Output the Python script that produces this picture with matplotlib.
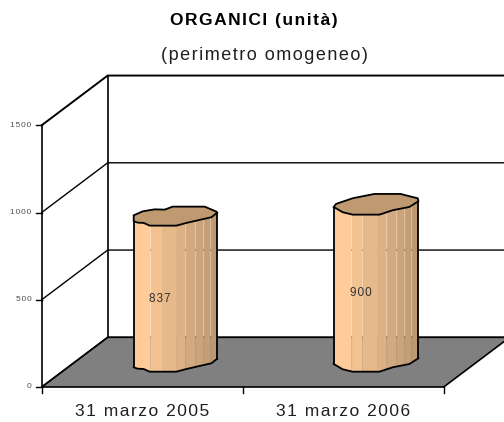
import numpy as np
import matplotlib
matplotlib.use('Agg')
import matplotlib.pyplot as plt
from matplotlib.patches import Polygon

plt.rcParams['font.family'] = ['Liberation Sans', 'DejaVu Sans']

categories = ['31 marzo 2005', '31 marzo 2006']
values = [837, 900]
value_labels = ['837', '900']
y_ticks = [0, 500, 1000, 1500]
y_tick_labels = ['0', '500', '1000', '1500']

# pixels per category / per unit, depth of the fake 3d box
PX_CAT = 201.0
PX_VAL = 0.1745
X0, Y0 = 41.7, 387.0
W, H = 504, 422
DEPTH_X = 66.0 / PX_CAT
DEPTH_Y = 49.7 / PX_VAL
BAR_FRONT = 0.308
BAR_MID = 0.5
LABEL_DEPTH = 0.27

STRIP_EDGES = [-41.5, -24.5, -13.5, 0.5, 10.5, 20.5, 28.5, 35.5, 42.0]
STRIP_COLORS = ['#FFCC99', '#F2C291', '#E6B98B', '#DCB185', '#D3AA80', '#CCA47B', '#C59E76', '#BE9871']
TOP_COLOR = '#BF9970'

# footprint outlines in pixels from the bar centre, front edge left to right, then back edge right to left
FRONT = [
    [(-41.5, 4.4), (-37.5, 3.0), (-31.5, 2.7), (-25.5, 0.0), (1.2, 0.0), (11.2, 2.7), (36.2, 8.4), (42.0, 13.0)],
    [(-42.5, 7.7), (-33.5, 2.4), (-23.5, 0.0), (3.2, 0.0), (16.5, 4.4), (33.2, 7.7), (42.2, 13.4)],
]
BACK = [
    [(42.0, 13.0), (41.2, 14.0), (29.5, 19.0), (-2.5, 19.0), (-10.5, 16.0), (-20.5, 16.3), (-32.5, 14.3), (-41.5, 10.3), (-41.5, 4.4)],
    [(42.2, 13.4), (41.5, 16.4), (33.2, 18.4), (24.5, 20.7), (-1.8, 20.7), (-23.5, 16.4), (-40.2, 10.7), (-42.5, 7.7)],
]


def project(cat, val, depth=0.0):
    return cat + depth * DEPTH_X, val + depth * DEPTH_Y


def px(dx, dy):
    return dx / PX_CAT, dy / PX_VAL


def spaced(s):
    # the original text is letter spaced, hair spaces get close to that
    return '\u200a'.join(s)


fig = plt.figure(figsize=(W / 100, H / 100), dpi=100)
ax = fig.add_axes([0, 0, 1, 1])
ax.set_xlim(-X0 / PX_CAT, (W - X0) / PX_CAT)
ax.set_ylim((Y0 - H) / PX_VAL, Y0 / PX_VAL)
ax.axis('off')

top_val = y_ticks[-1]
n_cat = len(categories)

# floor
floor = [project(0, 0), project(n_cat, 0), project(n_cat, 0, 1), project(0, 0, 1)]
ax.add_patch(Polygon(floor, closed=True, fc='#808080', ec='black', lw=1.2, zorder=1))

# left wall and back wall lines
for v in y_ticks:
    lw = 1.4 if v == top_val else 1.0
    a, b, c = project(0, v), project(0, v, 1), project(n_cat, v, 1)
    ax.plot([a[0], b[0], c[0]], [a[1], b[1], c[1]], color='black', lw=lw, zorder=2, solid_joinstyle='miter')
    ax.plot([a[0] - 5.5 / PX_CAT, a[0]], [a[1], a[1]], color='black', lw=1.0, zorder=2)
    ax.text(a[0] - 10 / PX_CAT, v, spaced(y_tick_labels[y_ticks.index(v)]), ha='right', va='center',
            fontsize=6, color='#505050')
for x0, y0, x1, y1 in [(*project(0, 0), *project(0, top_val)), (*project(0, 0, 1), *project(0, top_val, 1))]:
    ax.plot([x0, x1], [y0, y1], color='black', lw=1.2, zorder=2)

# x ticks and labels
for i in range(n_cat + 1):
    ax.plot([i, i], [0, -6 / PX_VAL], color='black', lw=1.0, zorder=2)
for i, lab in enumerate(categories):
    ax.text(i + 0.5, -25 / PX_VAL, spaced(lab), ha='center', va='center', fontsize=12.5, color='#202020')

# bars
for i, v in enumerate(values):
    cx = project(i + 0.5, 0, BAR_MID)[0]
    base = project(i + 0.5, 0, BAR_FRONT)[1]
    front = FRONT[i]
    back = BACK[i]
    fx = [p[0] for p in front]
    fy = [p[1] for p in front]
    for j, col in enumerate(STRIP_COLORS):
        x0 = STRIP_EDGES[j] + (0.35 if j > 0 else 0)
        x1 = STRIP_EDGES[j + 1]
        inner = [p for p in front if x0 < p[0] < x1]
        low = [(x0, np.interp(x0, fx, fy))] + inner + [(x1, np.interp(x1, fx, fy))]
        pts = [(cx + px(a, b)[0], base + px(a, b)[1]) for a, b in low]
        pts += [(x, y + v) for x, y in pts[::-1]]
        ax.add_patch(Polygon(pts, closed=True, fc=col, ec='none', zorder=3))
    # outline of the body
    low = [(cx + px(a, b)[0], base + px(a, b)[1]) for a, b in front]
    left = low[0]
    right = low[-1]
    ax.plot([left[0], left[0]], [left[1], left[1] + v], color='black', lw=1.3, zorder=4)
    ax.plot([right[0], right[0]], [right[1], right[1] + v], color='black', lw=1.3, zorder=4)
    ax.plot([p[0] for p in low], [p[1] for p in low], color='black', lw=1.3, zorder=4)
    # top cap
    cap = [(cx + px(a, b)[0], base + v + px(a, b)[1]) for a, b in front + back]
    ax.add_patch(Polygon(cap, closed=True, fc=TOP_COLOR, ec='black', lw=1.3, zorder=5))
    lx = project(i + 0.5, 0, LABEL_DEPTH)[0]
    ax.text(lx, base + v / 2, spaced(value_labels[i]), ha='center', va='center', fontsize=8.5, color='#303030', zorder=6)

fig.text(254 / W, 1 - 21 / H, spaced('ORGANICI (unità)'), ha='center', va='center',
         fontsize=12.5, fontweight='bold', color='black')
fig.text(264 / W, 1 - 56 / H, spaced('(perimetro omogeneo)'), ha='center', va='center',
         fontsize=13, color='#202020')

fig.savefig('out.png', dpi=100)
